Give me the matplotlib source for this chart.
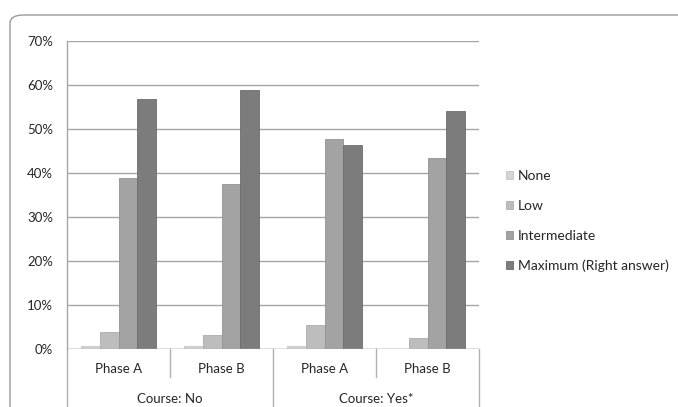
import matplotlib
matplotlib.use("Agg")
import matplotlib.pyplot as plt
from matplotlib.patches import FancyBboxPatch
from matplotlib.lines import Line2D
import numpy as np

plt.rcParams['font.family'] = ['Lato', 'DejaVu Sans']

phases = ["Phase A", "Phase B", "Phase A", "Phase B"]
courses = ["Course: No", "Course: Yes*"]
series = ["None", "Low", "Intermediate", "Maximum (Right answer)"]
none_vals = [0.6, 0.6, 0.6, 0.0]
low_vals = [3.9, 3.2, 5.5, 2.4]
inter_vals = [38.9, 37.6, 47.8, 43.3]
max_vals = [56.9, 58.9, 46.4, 54.2]
yticks = [0, 10, 20, 30, 40, 50, 60, 70]

colors = ["#d4d4d4", "#bdbdbd", "#a3a3a3", "#7c7c7c"]
edges = ["#c4c4c4", "#adadad", "#939393", "#6c6c6c"]
text_color = "#262626"

fig = plt.figure(figsize=(6.78, 4.07), dpi=100)
W, H = 678, 407

# rounded frame around the chart area
frame = FancyBboxPatch((10 / W, -0.2), 1.2, (1 - 15 / H) + 0.2,
                       boxstyle="round,pad=0,rounding_size=0.02",
                       transform=fig.transFigure, facecolor="none",
                       edgecolor="#9a9a9a", linewidth=1.0, zorder=-1)
fig.patches.append(frame)

left, right, bottom, top = 67 / W, 479 / W, 1 - 349 / H, 1 - 41 / H
ax = fig.add_axes([left, bottom, right - left, top - bottom])
ax.set_facecolor("none")

x = np.arange(len(phases))
bw = 0.18
data = [none_vals, low_vals, inter_vals, max_vals]
for i, (vals, c, ec, name) in enumerate(zip(data, colors, edges, series)):
    ax.bar(x + (i - 1.5) * bw, vals, width=bw, color=c, edgecolor=ec,
           linewidth=0.6, label=name, zorder=3)

ax.set_xlim(-0.5, len(phases) - 0.5)
ax.set_ylim(0, 70)
ax.set_yticks(yticks)
ax.set_yticklabels([f"{t}%" for t in yticks], fontsize=9.5, color=text_color)
ax.tick_params(axis='y', length=0, pad=10)
ax.set_xticks([])
ax.yaxis.grid(True, color="#a6a6a6", linewidth=1.0, zorder=0)
for s in ["top", "right", "bottom"]:
    ax.spines[s].set_visible(False)
ax.spines["left"].set_color("#a6a6a6")
ax.spines["left"].set_linewidth(1.0)
ax.axhline(0, color="#a6a6a6", linewidth=1.0, zorder=4)

# two-level category axis below the plot
def fig_y(py):
    return 1 - py / H

def to_fig_x(xd):
    return fig.transFigure.inverted().transform(ax.transData.transform((xd, 0)))[0]

line_kw = dict(color="#b0b0b0", linewidth=1.0, transform=fig.transFigure)
fig.add_artist(Line2D([left, left], [fig_y(349), 0], **line_kw))
fig.add_artist(Line2D([right, right], [fig_y(349), 0], **line_kw))
fig.add_artist(Line2D([to_fig_x(1.5)] * 2, [fig_y(349), 0], **line_kw))
for xd in [0.5, 2.5]:
    fig.add_artist(Line2D([to_fig_x(xd)] * 2, [fig_y(349), fig_y(377)], **line_kw))

for xi, p in zip(x, phases):
    fig.text(to_fig_x(xi), fig_y(369), p, ha="center", va="center",
             fontsize=9.5, color=text_color)
for ci, c in enumerate(courses):
    fig.text(to_fig_x(ci * 2 + 0.5), fig_y(399), c, ha="center", va="center",
             fontsize=9.5, color=text_color)

# legend
handles = [plt.Rectangle((0, 0), 1, 1, facecolor=c, edgecolor=e, linewidth=0.6)
           for c, e in zip(colors, edges)]
fig.legend(handles, series, loc="center left", bbox_to_anchor=(493 / W, fig_y(221)),
           frameon=False, fontsize=10, handlelength=0.55, handleheight=0.55,
           handletextpad=0.35, labelspacing=1.28, labelcolor=text_color)

fig.savefig("out.png", dpi=100)
